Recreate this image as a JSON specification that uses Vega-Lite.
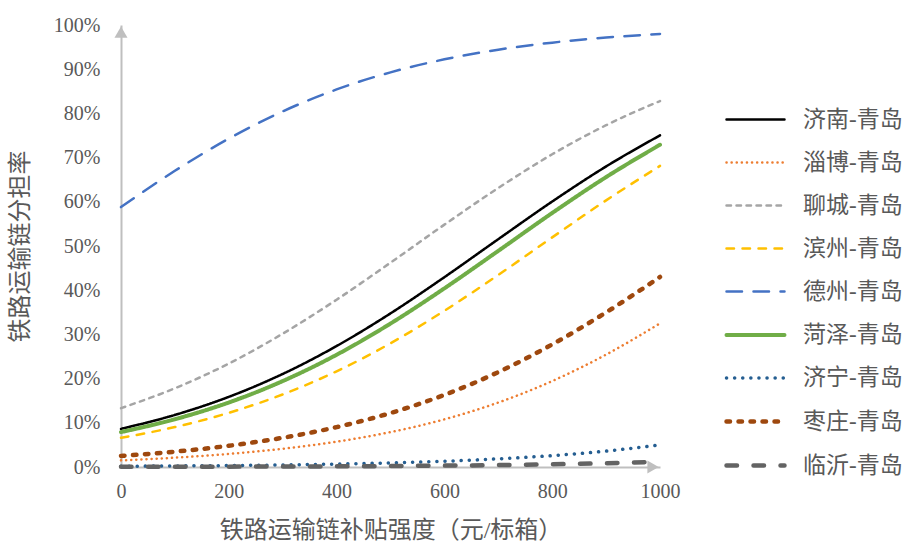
{
  "$schema": "https://vega.github.io/schema/vega-lite/v6.json",
  "autosize": "none",
  "width": 539,
  "height": 442,
  "padding": {"left": 121, "top": 25, "right": 247, "bottom": 76},
  "background": "white",
  "config": {
    "view": {"stroke": null},
    "font": "Liberation Serif, Noto Sans CJK SC",
    "axis": {"labelFont": "Liberation Serif, Noto Sans CJK SC", "titleFont": "Liberation Serif, Noto Sans CJK SC", "labelColor": "#595959", "titleColor": "#595959", "titleFontWeight": "normal", "grid": false, "ticks": false, "domainColor": "#BFBFBF", "domainWidth": 2},
    "legend": {"labelFont": "Liberation Serif, Noto Sans CJK SC", "labelColor": "#595959"}
  },
  "datasets": {
    "curves": [
      {"x": 0, "济南-青岛": 0.0863, "淄博-青岛": 0.0150, "聊城-青岛": 0.1331, "滨州-青岛": 0.0660, "德州-青岛": 0.5881, "菏泽-青岛": 0.0790, "济宁-青岛": 0.0017, "枣庄-青岛": 0.0250, "临沂-青岛": 0.0004},
      {"x": 100, "济南-青岛": 0.1178, "淄博-青岛": 0.0211, "聊城-青岛": 0.1781, "滨州-青岛": 0.0904, "德州-青岛": 0.6702, "菏泽-青岛": 0.1080, "济宁-青岛": 0.0024, "枣庄-青岛": 0.0347, "临沂-青岛": 0.0005},
      {"x": 200, "济南-青岛": 0.1587, "淄博-青岛": 0.0295, "聊城-青岛": 0.2341, "滨州-青岛": 0.1226, "德州-青岛": 0.7430, "菏泽-青岛": 0.1459, "济宁-青岛": 0.0033, "枣庄-青岛": 0.0480, "临沂-青岛": 0.0008},
      {"x": 300, "济南-青岛": 0.2105, "淄博-青岛": 0.0412, "聊城-青岛": 0.3016, "滨州-青岛": 0.1642, "德州-青岛": 0.8046, "菏泽-青岛": 0.1944, "济宁-青岛": 0.0047, "枣庄-青岛": 0.0661, "临沂-青岛": 0.0011},
      {"x": 400, "济南-青岛": 0.2737, "淄博-青岛": 0.0572, "聊城-青岛": 0.3785, "滨州-青岛": 0.2165, "德州-青岛": 0.8542, "菏泽-青岛": 0.2539, "济宁-青岛": 0.0066, "枣庄-青岛": 0.0902, "临沂-青岛": 0.0015},
      {"x": 500, "济南-青岛": 0.3475, "淄博-青岛": 0.0789, "聊城-青岛": 0.4623, "滨州-青岛": 0.2799, "德州-青岛": 0.8929, "菏泽-青岛": 0.3245, "济宁-青岛": 0.0093, "枣庄-青岛": 0.1221, "临沂-青岛": 0.0022},
      {"x": 600, "济南-青岛": 0.4295, "淄博-青岛": 0.1079, "聊城-青岛": 0.5483, "滨州-青岛": 0.3535, "德州-青岛": 0.9223, "菏泽-青岛": 0.4042, "济宁-青岛": 0.0131, "枣庄-青岛": 0.1632, "临沂-青岛": 0.0031},
      {"x": 700, "济南-青岛": 0.5155, "淄博-青岛": 0.1459, "聊城-青岛": 0.6313, "滨州-青岛": 0.4346, "德州-青岛": 0.9441, "菏泽-青岛": 0.4890, "济宁-青岛": 0.0184, "枣庄-青岛": 0.2147, "临沂-青岛": 0.0043},
      {"x": 800, "济南-青岛": 0.6006, "淄博-青岛": 0.1944, "聊城-青岛": 0.7075, "滨州-青岛": 0.5195, "德州-青岛": 0.9601, "菏泽-青岛": 0.5747, "济宁-青岛": 0.0257, "枣庄-青岛": 0.2773, "临沂-青岛": 0.0061},
      {"x": 900, "济南-青岛": 0.6800, "淄博-青岛": 0.2543, "聊城-青岛": 0.7733, "滨州-青岛": 0.6033, "德州-青岛": 0.9716, "菏泽-青岛": 0.6559, "济宁-青岛": 0.0360, "枣庄-青岛": 0.3498, "临沂-青岛": 0.0085},
      {"x": 1000, "济南-青岛": 0.7503, "淄博-青岛": 0.3250, "聊城-青岛": 0.8280, "滨州-青岛": 0.6813, "德州-青岛": 0.9799, "菏泽-青岛": 0.7291, "济宁-青岛": 0.0500, "枣庄-青岛": 0.4300, "临沂-青岛": 0.0120}
    ],
    "arrows": [
      {"x": 0, "p": 0.984, "shape": "triangle-up"},
      {"x": 987, "p": 0, "shape": "triangle-right"}
    ]
  },
  "layer": [
    {
      "data": {"name": "curves"},
      "transform": [
        {"fold": ["济南-青岛", "淄博-青岛", "聊城-青岛", "滨州-青岛", "德州-青岛", "菏泽-青岛", "济宁-青岛", "枣庄-青岛", "临沂-青岛"], "as": ["series", "p"]}
      ],
      "mark": {"type": "line", "interpolate": "monotone", "strokeCap": "round"},
      "encoding": {
        "x": {"field": "x", "type": "quantitative", "scale": {"domain": [0, 1000], "nice": false}, "axis": {"values": [0, 200, 400, 600, 800, 1000], "format": "d", "labelFlush": false, "labelFontSize": 20, "labelPadding": 14, "title": "铁路运输链补贴强度（元/标箱）", "titleFontSize": 24, "titlePadding": 17}},
        "y": {"field": "p", "type": "quantitative", "scale": {"domain": [0, 1], "nice": false}, "axis": {"values": [0, 0.1, 0.2, 0.3, 0.4, 0.5, 0.6, 0.7, 0.8, 0.9, 1.0], "format": ".0%", "labelFontSize": 20, "labelPadding": 21, "title": "铁路运输链分担率", "titleFontSize": 24, "titlePadding": 21}},
        "color": {"field": "series", "type": "nominal", "title": null,
          "scale": {"domain": ["济南-青岛", "淄博-青岛", "聊城-青岛", "滨州-青岛", "德州-青岛", "菏泽-青岛", "济宁-青岛", "枣庄-青岛", "临沂-青岛"],
                    "range": ["#000000", "#ED7D31", "#A5A5A5", "#FFC000", "#4472C4", "#70AD47", "#255E91", "#9E480E", "#636363"]},
          "legend": {"orient": "none", "legendX": 603, "legendY": 64, "symbolType": "stroke", "symbolSize": 3364, "labelFontSize": 23, "labelOffset": 16, "rowPadding": -18, "labelLimit": 200,
            "encode": {"symbols": {"update": {"strokeCap": {"value": "round"}}}}}},
        "strokeDash": {"field": "series", "type": "nominal", "title": null,
          "scale": {"domain": ["济南-青岛", "淄博-青岛", "聊城-青岛", "滨州-青岛", "德州-青岛", "菏泽-青岛", "济宁-青岛", "枣庄-青岛", "临沂-青岛"],
                    "range": [[1, 0], [0.1, 5], [4.5, 5.5], [7.5, 8.5], [15.5, 11.5], [1, 0], [0.1, 8], [3.5, 8.5], [10.5, 16.5]]}},
        "strokeWidth": {"field": "series", "type": "ordinal", "title": null,
          "scale": {"type": "ordinal", "domain": ["济南-青岛", "淄博-青岛", "聊城-青岛", "滨州-青岛", "德州-青岛", "菏泽-青岛", "济宁-青岛", "枣庄-青岛", "临沂-青岛"],
                    "range": [2.5, 2.5, 2.5, 2.5, 2.5, 4, 3.5, 4.5, 4.5]}}
      }
    },
    {
      "data": {"name": "arrows"},
      "mark": {"type": "point", "filled": true, "color": "#BFBFBF", "size": 170, "opacity": 1},
      "encoding": {
        "x": {"field": "x", "type": "quantitative"},
        "y": {"field": "p", "type": "quantitative"},
        "shape": {"field": "shape", "type": "nominal", "scale": null, "legend": null}
      }
    }
  ]
}
